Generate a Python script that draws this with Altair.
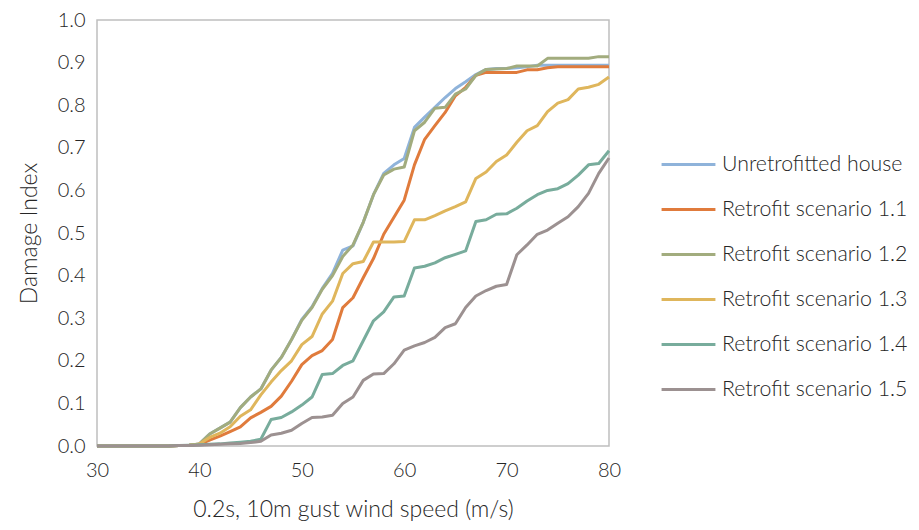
import altair as alt
import pandas as pd

speed = list(range(30, 81))

series_names = [
    "Unretrofitted house",
    "Retrofit scenario 1.1",
    "Retrofit scenario 1.2",
    "Retrofit scenario 1.3",
    "Retrofit scenario 1.4",
    "Retrofit scenario 1.5",
]
series_colors = ["#8FB3DA", "#E07B3C", "#A2AC7E", "#DFB65C", "#78AC9C", "#9C9191"]

zeros = [0.0] * 8  # 30..37

unretrofitted = zeros + [0.001, 0.002, 0.005, 0.028, 0.042, 0.056, 0.09, 0.115, 0.134, 0.178,
                         0.208, 0.25, 0.297, 0.327, 0.37, 0.405, 0.46, 0.47, 0.525, 0.59,
                         0.64, 0.66, 0.675, 0.748, 0.772, 0.795, 0.818, 0.839, 0.855, 0.872,
                         0.884, 0.886, 0.886, 0.888, 0.89, 0.894, 0.894, 0.894, 0.894, 0.894,
                         0.894, 0.894, 0.894]
scen_1_1 = zeros + [0.001, 0.002, 0.004, 0.014, 0.023, 0.034, 0.045, 0.066, 0.079, 0.093,
                    0.117, 0.152, 0.191, 0.212, 0.224, 0.25, 0.325, 0.348, 0.395, 0.44,
                    0.497, 0.537, 0.577, 0.66, 0.72, 0.752, 0.783, 0.822, 0.842, 0.87,
                    0.877, 0.877, 0.877, 0.877, 0.883, 0.883, 0.888, 0.89, 0.89, 0.89,
                    0.89, 0.89, 0.89]
scen_1_2 = zeros + [0.001, 0.002, 0.005, 0.028, 0.042, 0.056, 0.09, 0.115, 0.134, 0.178,
                    0.208, 0.25, 0.295, 0.325, 0.368, 0.40, 0.445, 0.472, 0.525, 0.59,
                    0.636, 0.65, 0.655, 0.74, 0.76, 0.793, 0.795, 0.826, 0.838, 0.87,
                    0.884, 0.885, 0.886, 0.892, 0.892, 0.892, 0.91, 0.91, 0.91, 0.91,
                    0.91, 0.914, 0.914]
scen_1_3 = zeros + [0.001, 0.002, 0.005, 0.02, 0.03, 0.045, 0.07, 0.085, 0.12, 0.15,
                    0.177, 0.2, 0.238, 0.257, 0.31, 0.34, 0.405, 0.428, 0.433, 0.479,
                    0.479, 0.479, 0.48, 0.531, 0.531, 0.541, 0.552, 0.562, 0.573, 0.628,
                    0.643, 0.668, 0.683, 0.713, 0.74, 0.752, 0.785, 0.805, 0.813, 0.838,
                    0.842, 0.849, 0.866]
scen_1_4 = zeros + [0.001, 0.002, 0.003, 0.004, 0.005, 0.007, 0.009, 0.011, 0.016, 0.062,
                    0.067, 0.08, 0.096, 0.115, 0.168, 0.17, 0.189, 0.2, 0.247, 0.294,
                    0.315, 0.35, 0.352, 0.418, 0.422, 0.43, 0.442, 0.45, 0.458, 0.527,
                    0.531, 0.544, 0.545, 0.558, 0.575, 0.59, 0.6, 0.604, 0.616, 0.636,
                    0.66, 0.663, 0.693]
scen_1_5 = zeros + [0.001, 0.001, 0.002, 0.003, 0.004, 0.005, 0.006, 0.008, 0.011, 0.026,
                    0.03, 0.037, 0.053, 0.067, 0.068, 0.072, 0.1, 0.115, 0.154, 0.169,
                    0.17, 0.193, 0.225, 0.235, 0.243, 0.255, 0.278, 0.287, 0.325, 0.352,
                    0.365, 0.375, 0.379, 0.449, 0.472, 0.497, 0.507, 0.523, 0.538, 0.562,
                    0.593, 0.64, 0.676]

all_series = [unretrofitted, scen_1_1, scen_1_2, scen_1_3, scen_1_4, scen_1_5]

x_ticks = [30, 40, 50, 60, 70, 80]
y_ticks = [0.0, 0.1, 0.2, 0.3, 0.4, 0.5, 0.6, 0.7, 0.8, 0.9, 1.0]

rows = []
for name, vals in zip(series_names, all_series):
    for s, v in zip(speed, vals):
        rows.append({"speed": s, "di": v, "series": name})
df = pd.DataFrame(rows)

FONT = "Lato"
TXT = "#262626"

color = alt.Color(
    "series:N",
    scale=alt.Scale(domain=series_names, range=series_colors),
    legend=alt.Legend(
        title=None,
        orient="none",
        legendX=563,
        legendY=116,
        symbolType="stroke",
        symbolSize=2900,
        symbolStrokeWidth=3,
        labelFontSize=21.3,
        labelFont=FONT,
        labelFontWeight=300,
        labelColor=TXT,
        labelLimit=400,
        labelOffset=5,
        rowPadding=6,
    ),
)

layers = []
for name in series_names:
    layers.append(
        alt.Chart(df)
        .transform_filter(alt.datum.series == name)
        .mark_line(strokeWidth=3, strokeJoin="round")
        .encode(
            x=alt.X("speed:Q", scale=alt.Scale(domain=[30, 80], nice=False),
                    axis=alt.Axis(values=x_ticks, title="0.2s, 10m gust wind speed (m/s)",
                                  labelPadding=14, titlePadding=18, labelFlush=False)),
            y=alt.Y("di:Q", scale=alt.Scale(domain=[0, 1], nice=False),
                    axis=alt.Axis(values=y_ticks, format=".1f", title="Damage Index",
                                  labelPadding=12, titlePadding=16, labelFlush=False)),
            color=color,
        )
    )

chart = (
    alt.layer(*layers)
    .properties(
        width=512,
        height=426,
        autosize=alt.AutoSizeParams(type="none"),
        padding={"left": 89, "top": 12, "right": 302, "bottom": 76},
    )
    .configure_view(stroke="#BFBFBF", strokeWidth=1.5)
    .configure_axis(
        domain=False,
        ticks=False,
        grid=False,
        labelFont=FONT,
        labelFontSize=20,
        labelFontWeight=300,
        labelColor=TXT,
        titleFont=FONT,
        titleFontSize=23,
        titleFontWeight=300,
        titleColor=TXT,
    )
)

chart.save("out.html", embed_options={"renderer": "svg", "actions": False})
